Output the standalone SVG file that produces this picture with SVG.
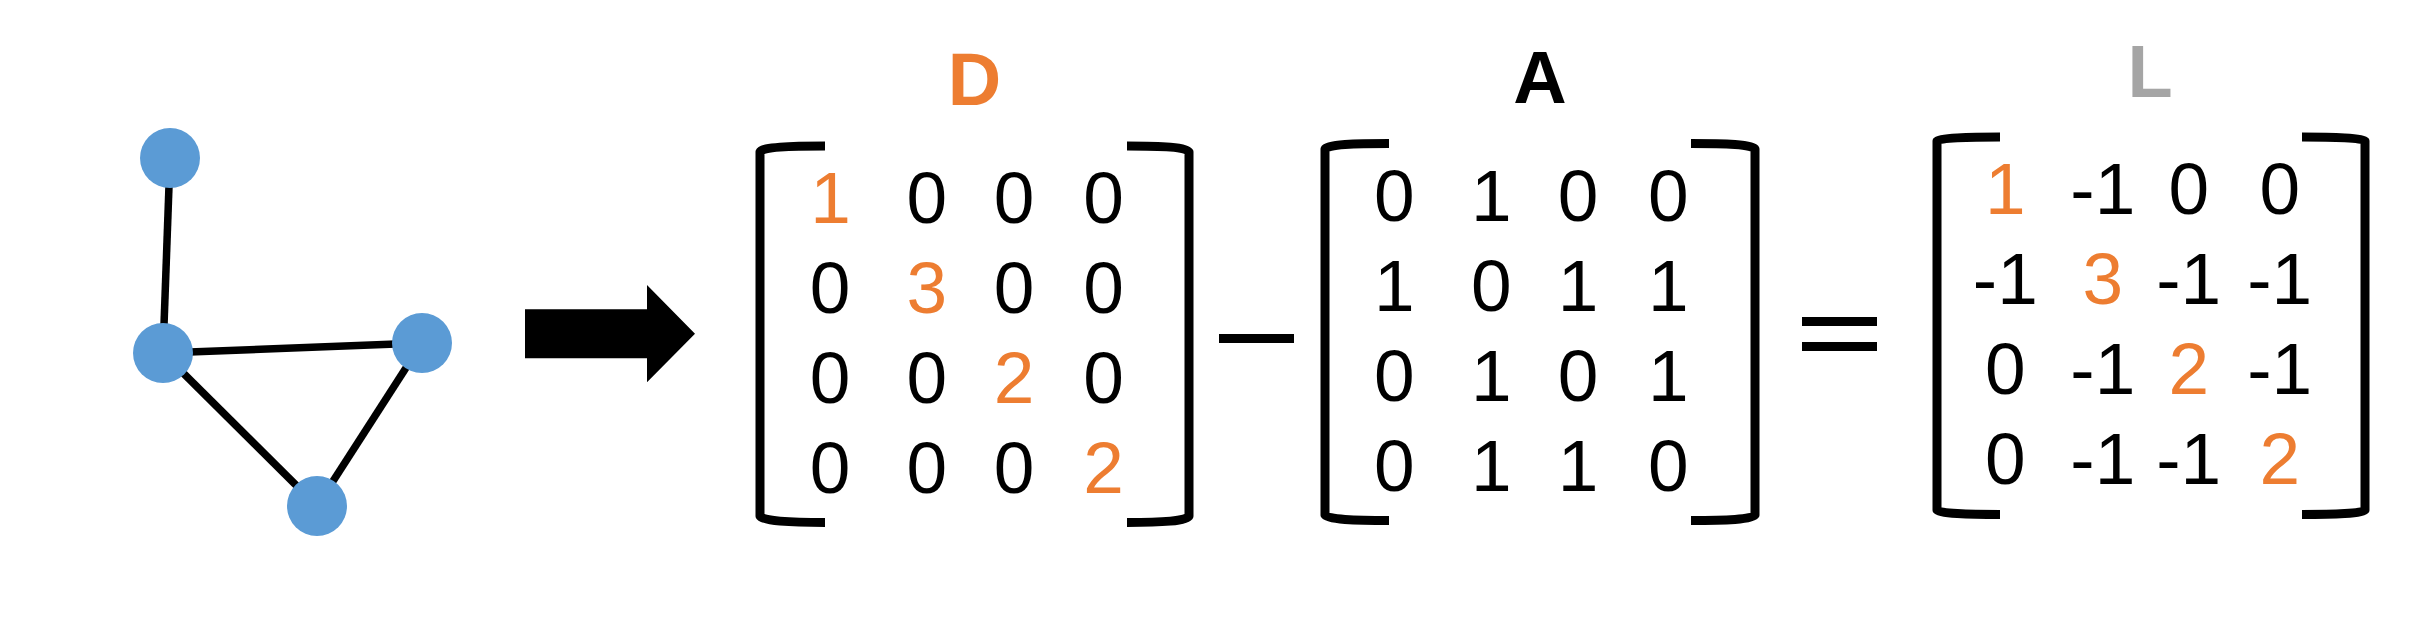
<svg xmlns="http://www.w3.org/2000/svg" width="2421" height="619" viewBox="0 0 2421 619">
<style>
.node{fill:#5B9BD5}
.edge{stroke:#000;stroke-width:7.5;fill:none}
.br{stroke:#000;stroke-width:9;fill:none;stroke-linecap:butt;stroke-linejoin:round}
.num{font-family:"Liberation Sans",Arial,sans-serif;font-size:73px;text-anchor:middle;fill:#000}
.o{fill:#ED7D31}
.lab{font-family:"Liberation Sans",Arial,sans-serif;font-size:74px;font-weight:bold;text-anchor:middle}
</style>
<rect width="2421" height="619" fill="#fff"/>
<g id="connectors">
<line class="edge" x1="170" y1="158" x2="163" y2="353"/>
<line class="edge" x1="163" y1="353" x2="422" y2="343"/>
<line class="edge" x1="163" y1="353" x2="317" y2="506"/>
<line class="edge" x1="422" y1="343" x2="317" y2="506"/>
</g>
<g id="node1"><circle class="node" cx="170" cy="158" r="30"/></g>
<g id="node2"><circle class="node" cx="163" cy="353" r="30"/></g>
<g id="node3"><circle class="node" cx="422" cy="343" r="30"/></g>
<g id="node4"><circle class="node" cx="317" cy="506" r="30"/></g>
<g id="arrow"><polygon points="525,309.3 647,309.3 647,285 695,333.8 647,382.3 647,358.3 525,358.3" fill="#000"/></g>

<g id="matrixD">
<text class="lab" x="974.4" y="105" fill="#ED7D31">D</text>
<path class="br" d="M825,146 C790,146 762,147 760,152 L760,516 C762,521 790,522.5 825,522.5"/>
<path class="br" d="M1127,146 C1162,146 1187,147 1189,152 L1189,516 C1187,521 1162,522.5 1127,522.5"/>
<text x="830.5" y="222.5" class="num o">1</text><text x="926.7" y="222.5" class="num">0</text><text x="1014" y="222.5" class="num">0</text><text x="1103.5" y="222.5" class="num">0</text>
<text x="830" y="312.5" class="num">0</text><text x="926.7" y="312.5" class="num o">3</text><text x="1014" y="312.5" class="num">0</text><text x="1103.5" y="312.5" class="num">0</text>
<text x="830" y="402.5" class="num">0</text><text x="926.7" y="402.5" class="num">0</text><text x="1014" y="402.5" class="num o">2</text><text x="1103.5" y="402.5" class="num">0</text>
<text x="830" y="493" class="num">0</text><text x="926.7" y="493" class="num">0</text><text x="1014" y="493" class="num">0</text><text x="1103.5" y="493" class="num o">2</text>
</g>

<g id="minus"><rect x="1219" y="334" width="75" height="9" fill="#000"/></g>

<g id="matrixA">
<text class="lab" x="1540" y="103" fill="#000">A</text>
<path class="br" d="M1389,143.5 C1355,143.5 1327,144.5 1325,149 L1325,515 C1327,519.5 1355,520.5 1389,520.5"/>
<path class="br" d="M1691,143.5 C1725,143.5 1753,144.5 1755,149 L1755,515 C1753,519.5 1725,520.5 1691,520.5"/>
<text x="1394.4" y="221" class="num">0</text><text x="1491.2" y="221" class="num">1</text><text x="1578" y="221" class="num">0</text><text x="1668.2" y="221" class="num">0</text>
<text x="1394.4" y="311" class="num">1</text><text x="1491.2" y="311" class="num">0</text><text x="1578" y="311" class="num">1</text><text x="1668.2" y="311" class="num">1</text>
<text x="1394.4" y="401" class="num">0</text><text x="1491.2" y="401" class="num">1</text><text x="1578" y="401" class="num">0</text><text x="1668.2" y="401" class="num">1</text>
<text x="1394.4" y="491" class="num">0</text><text x="1491.2" y="491" class="num">1</text><text x="1578" y="491" class="num">1</text><text x="1668.2" y="491" class="num">0</text>
</g>

<g id="equals"><rect x="1802" y="317" width="75" height="9" fill="#000"/><rect x="1802" y="342" width="75" height="9" fill="#000"/></g>

<g id="matrixL">
<text class="lab" x="2150" y="96.7" fill="#A5A5A5">L</text>
<path class="br" d="M2000,137 C1968,137 1939,138 1937,141 L1937,510 C1939,513.5 1968,514.5 2000,514.5"/>
<path class="br" d="M2302,137 C2334,137 2363,138 2365,141 L2365,510 C2363,513.5 2334,514.5 2302,514.5"/>
<text x="2005.3" y="214.3" class="num o">1</text><text x="2102.8" y="214.3" class="num">-1</text><text x="2188.7" y="214.3" class="num">0</text><text x="2279.7" y="214.3" class="num">0</text>
<text x="2005.3" y="304.3" class="num">-1</text><text x="2102.8" y="304.3" class="num o">3</text><text x="2188.7" y="304.3" class="num">-1</text><text x="2279.7" y="304.3" class="num">-1</text>
<text x="2005.3" y="394.3" class="num">0</text><text x="2102.8" y="394.3" class="num">-1</text><text x="2188.7" y="394.3" class="num o">2</text><text x="2279.7" y="394.3" class="num">-1</text>
<text x="2005.3" y="484.3" class="num">0</text><text x="2102.8" y="484.3" class="num">-1</text><text x="2188.7" y="484.3" class="num">-1</text><text x="2279.7" y="484.3" class="num o">2</text>
</g>
</svg>
